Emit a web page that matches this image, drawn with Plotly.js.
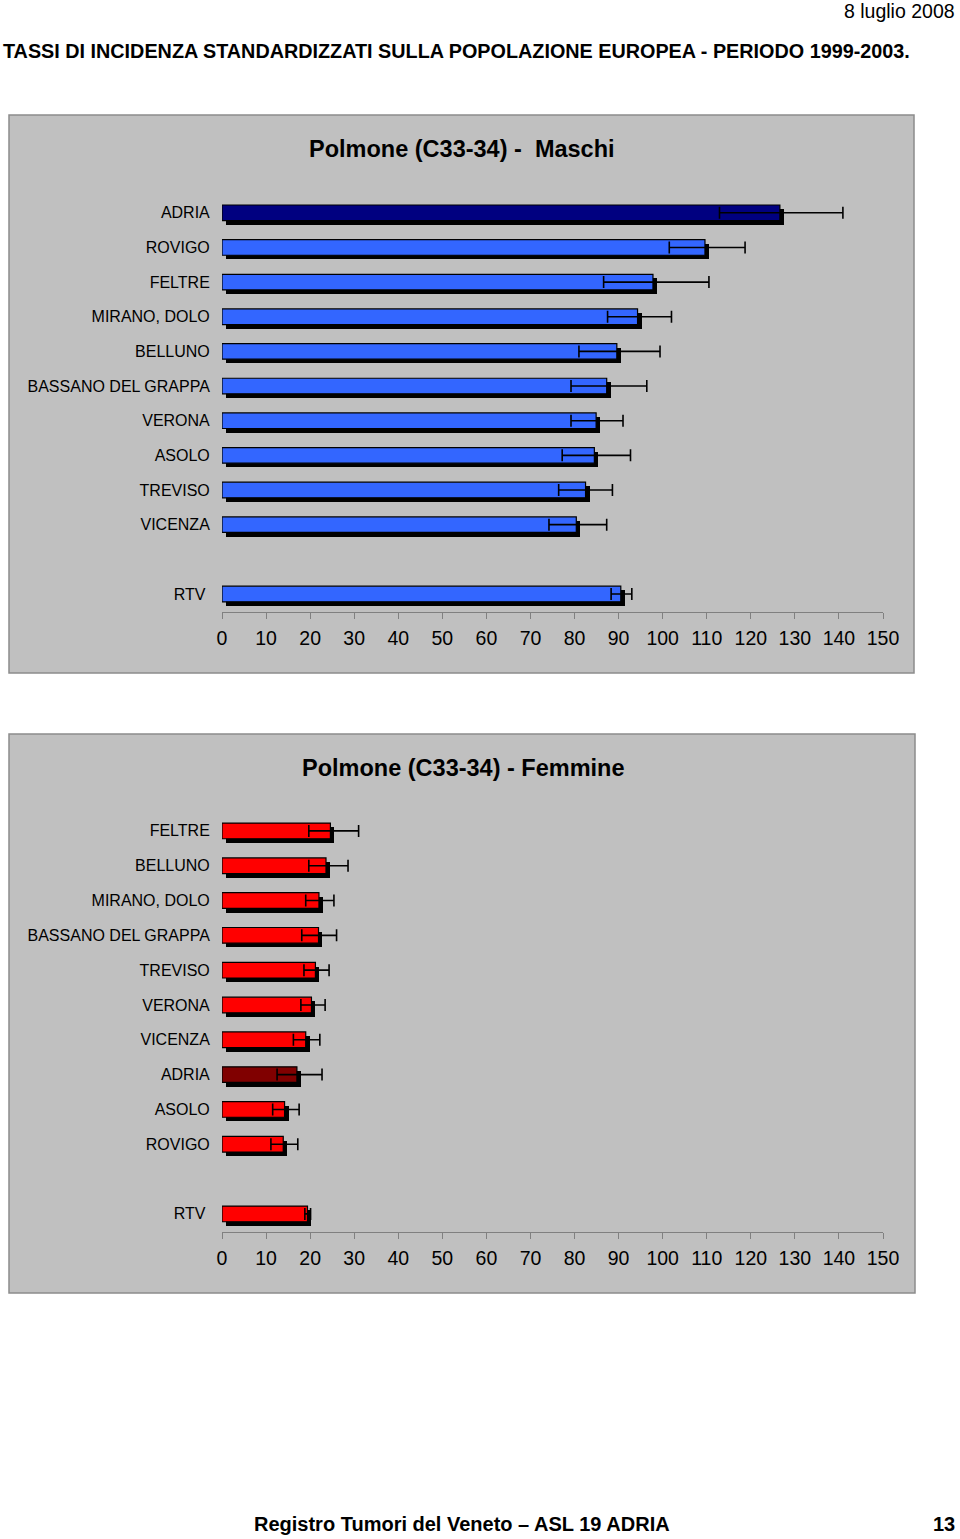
<!DOCTYPE html>
<html>
<head>
<meta charset="utf-8">
<script src="https://cdn.plot.ly/plotly-3.0.1.min.js"></script>
<style>
html,body{margin:0;padding:0;background:#fff;}
#chart{width:960px;height:1539px;}
</style>
</head>
<body>
<div id="chart"></div>
<script>
// ---- Data: Maschi ----
const mCities = ["ADRIA","ROVIGO","FELTRE","MIRANO, DOLO","BELLUNO","BASSANO DEL GRAPPA","VERONA","ASOLO","TREVISO","VICENZA","RTV"];
const mRate   = [126.6, 109.6, 97.8, 94.3, 89.6, 87.3, 84.9, 84.5, 82.5, 80.4, 90.5];
const mLow    = [112.9, 101.5, 86.6, 87.5, 81.0, 79.2, 79.2, 77.2, 76.4, 74.2, 88.3];
const mHigh   = [140.9, 118.7, 110.5, 102.0, 99.4, 96.4, 91.0, 92.7, 88.6, 87.3, 93.0];
// ---- Data: Femmine ----
const fCities = ["FELTRE","BELLUNO","MIRANO, DOLO","BASSANO DEL GRAPPA","TREVISO","VERONA","VICENZA","ADRIA","ASOLO","ROVIGO","RTV"];
const fRate   = [24.6, 23.6, 22.0, 21.9, 21.2, 20.3, 19.0, 17.0, 14.2, 13.9, 19.4];
const fLow    = [19.7, 19.7, 19.0, 18.1, 18.6, 17.9, 16.2, 12.5, 11.5, 11.1, 18.8];
const fHigh   = [31.0, 28.6, 25.4, 26.0, 24.3, 23.4, 22.2, 22.7, 17.5, 17.2, 20.1];
const xTicks  = [0,10,20,30,40,50,60,70,80,90,100,110,120,130,140,150];

// positions: cities 0..9, gap, RTV at 11
function positions(cities){ return cities.map((c,i)=> c==="RTV" ? i+1 : i); }

const FONT = "Liberation Sans, Arial, Helvetica, sans-serif";
const W = 960, H = 1539;
const px = v => v/W, py = v => 1 - v/H;

function traces(cities, rate, low, high, color, hiColor, hiName, xa, ya){
  const pos = positions(cities);
  const colors = cities.map(c => c===hiName ? hiColor : color);
  const shadow = {
    type:'bar', orientation:'h', x: rate, y: pos, base: 0.9,
    width: 0.45, offset: -0.105,
    marker:{color:'#000000', line:{width:0}},
    xaxis:xa, yaxis:ya, hoverinfo:'skip', showlegend:false
  };
  const front = {
    type:'bar', orientation:'h', x: rate, y: pos,
    width: 0.45, offset: -0.225,
    marker:{color: colors, line:{color:'#000000', width:1.2}},
    error_x:{type:'data', symmetric:false,
      array: high.map((h,i)=> h - rate[i]),
      arrayminus: low.map((l,i)=> rate[i] - l),
      color:'#000000', thickness:1.6, width:6},
    xaxis:xa, yaxis:ya, showlegend:false
  };
  return [shadow, front];
}

const data = [
  ...traces(mCities, mRate, mLow, mHigh, '#3366ff', '#000080', 'ADRIA', 'x', 'y'),
  ...traces(fCities, fRate, fLow, fHigh, '#ff0000', '#800000', 'ADRIA', 'x2', 'y2')
];

function xAxis(anchor){
  return {
    domain:[px(222), px(883)], anchor: anchor, range:[0,150],
    tickvals: xTicks, ticktext: xTicks.map(String),
    showgrid:false, zeroline:false,
    showline:true, linecolor:'#808080', linewidth:1,
    ticks:'outside', ticklen:6, tickcolor:'#808080', tickwidth:1,
    ticklabelstandoff: 3,
    tickfont:{family:FONT, size:19.5, color:'#000'},
    fixedrange:true
  };
}
function yAxis(cities, domain, anchor){
  const pos = positions(cities);
  return {
    domain: domain, anchor: anchor, range:[11.52, -0.6],
    tickvals: pos, ticktext: cities.map(c => c==="RTV" ? "RTV\u00a0" : c),
    showgrid:false, zeroline:false, showline:false,
    ticks:'outside', ticklen:8, tickcolor:'rgba(0,0,0,0)',
    tickfont:{family:FONT, size:16, color:'#000'},
    fixedrange:true
  };
}

const layout = {
  width: W, height: H,
  margin:{l:0,r:0,t:0,b:0},
  paper_bgcolor:'#ffffff', plot_bgcolor:'rgba(0,0,0,0)',
  barmode:'overlay', bargap:0,
  showlegend:false,
  xaxis: xAxis('y'),
  yaxis: yAxis(mCities, [py(612), py(192)], 'x'),
  xaxis2: xAxis('y2'),
  yaxis2: yAxis(fCities, [py(1232), py(810)], 'x2'),
  shapes:[
    {type:'rect', xref:'paper', yref:'paper', x0:px(9), x1:px(914), y0:py(673), y1:py(115),
     fillcolor:'#c0c0c0', line:{color:'#8c8c8c', width:1.5}, layer:'below'},
    {type:'rect', xref:'paper', yref:'paper', x0:px(9), x1:px(915), y0:py(1293), y1:py(734),
     fillcolor:'#c0c0c0', line:{color:'#8c8c8c', width:1.5}, layer:'below'}
  ],
  annotations:[
    {text:'8 luglio 2008', xref:'paper', yref:'paper', x:px(957), y:py(11), xanchor:'right', yanchor:'middle',
     showarrow:false, font:{family:FONT, size:19.5, color:'#000'}},
    {text:'TASSI DI INCIDENZA STANDARDIZZATI SULLA POPOLAZIONE EUROPEA - PERIODO 1999-2003.', xref:'paper', yref:'paper',
     x:px(1), y:py(51), xanchor:'left', yanchor:'middle', showarrow:false,
     font:{family:FONT, size:19.8, color:'#000', weight:'bold'}},
    {text:'Polmone (C33-34) -\u00a0\u00a0Maschi', xref:'paper', yref:'paper', x:px(462), y:py(149), xanchor:'center', yanchor:'middle',
     showarrow:false, font:{family:FONT, size:23.5, color:'#000', weight:'bold'}},
    {text:'Polmone (C33-34) - Femmine', xref:'paper', yref:'paper', x:px(463), y:py(768), xanchor:'center', yanchor:'middle',
     showarrow:false, font:{family:FONT, size:23.5, color:'#000', weight:'bold'}},
    {text:'Registro Tumori del Veneto \u2013 ASL 19 ADRIA', xref:'paper', yref:'paper', x:px(462), y:py(1524), xanchor:'center', yanchor:'middle',
     showarrow:false, font:{family:FONT, size:20, color:'#000', weight:'bold'}},
    {text:'13', xref:'paper', yref:'paper', x:px(957), y:py(1524), xanchor:'right', yanchor:'middle',
     showarrow:false, font:{family:FONT, size:20, color:'#000', weight:'bold'}}
  ]
};

Plotly.newPlot('chart', data, layout, {staticPlot:true, displayModeBar:false});
</script>
</body>
</html>
